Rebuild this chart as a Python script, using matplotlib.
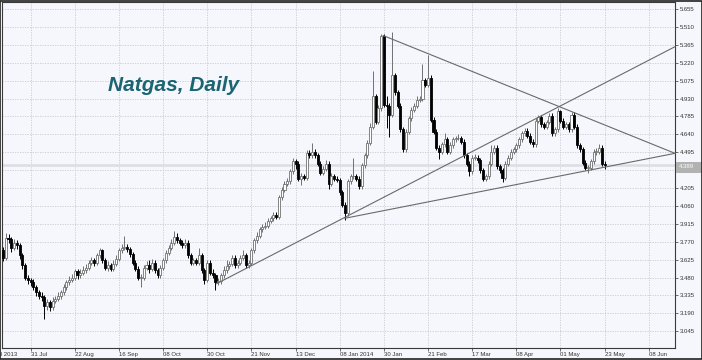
import matplotlib
matplotlib.use("Agg")
import matplotlib.pyplot as plt
import matplotlib.transforms as mtransforms
from matplotlib.patches import Rectangle

# Natgas daily candles (bar 0 = first visible bar)
opens = [
    3.70, 3.64, 3.80, 3.79, 3.72, 3.76, 3.74, 3.66, 3.58, 3.48,
    3.46, 3.44, 3.40, 3.36, 3.33, 3.32, 3.25, 3.28, 3.24, 3.29,
    3.31, 3.33, 3.36, 3.40, 3.44, 3.46, 3.48, 3.53, 3.50, 3.52,
    3.54, 3.56, 3.60, 3.62, 3.60, 3.66, 3.70, 3.62, 3.56, 3.58,
    3.55, 3.59, 3.63, 3.70, 3.72, 3.73, 3.71, 3.67, 3.60, 3.55,
    3.48, 3.48, 3.56, 3.58, 3.55, 3.60, 3.54, 3.50, 3.56, 3.62,
    3.68, 3.72, 3.76, 3.81, 3.78, 3.76, 3.74, 3.76, 3.66, 3.60,
    3.62, 3.60, 3.66, 3.54, 3.46, 3.60, 3.52, 3.50, 3.44, 3.45,
    3.50, 3.54, 3.57, 3.59, 3.64, 3.58, 3.60, 3.64, 3.66, 3.58,
    3.60, 3.70, 3.78, 3.82, 3.87, 3.89, 3.90, 3.94, 3.96, 3.99,
    3.97, 4.13, 4.19, 4.24, 4.26, 4.34, 4.42, 4.40, 4.28, 4.30,
    4.29, 4.49, 4.47, 4.50, 4.47, 4.40, 4.33, 4.36, 4.40, 4.24,
    4.30, 4.28, 4.27, 4.17, 4.07, 4.00, 4.26, 4.30, 4.30, 4.28,
    4.22, 4.39, 4.47, 4.57, 4.70, 4.95, 4.74, 4.85, 5.44, 4.88,
    4.87, 4.80, 5.12, 4.98, 4.87, 4.68, 4.52, 4.66, 4.77, 4.84,
    4.87, 4.92, 4.93, 5.08, 5.04, 5.10, 4.76, 4.66, 4.53, 4.50,
    4.56, 4.60, 4.50, 4.55, 4.60, 4.61, 4.61, 4.58, 4.47, 4.40,
    4.34, 4.45, 4.45, 4.43, 4.35, 4.28, 4.30, 4.40, 4.50, 4.53,
    4.38, 4.35, 4.29, 4.40, 4.45, 4.50, 4.52, 4.55, 4.60, 4.65,
    4.67, 4.63, 4.58, 4.56, 4.75, 4.78, 4.72, 4.70, 4.74, 4.79,
    4.65, 4.68, 4.83, 4.75, 4.70, 4.72, 4.68, 4.80, 4.70, 4.55,
    4.52, 4.41, 4.37, 4.37, 4.42, 4.50, 4.50, 4.53, 4.40,
]
highs = [
    3.73, 3.84, 3.83, 3.81, 3.79, 3.78, 3.76, 3.68, 3.60, 3.50,
    3.48, 3.47, 3.42, 3.38, 3.36, 3.34, 3.31, 3.30, 3.32, 3.33,
    3.36, 3.38, 3.43, 3.46, 3.49, 3.51, 3.55, 3.55, 3.55, 3.57,
    3.59, 3.62, 3.65, 3.64, 3.68, 3.72, 3.71, 3.64, 3.61, 3.60,
    3.62, 3.66, 3.72, 3.75, 3.82, 3.75, 3.73, 3.69, 3.62, 3.57,
    3.51, 3.58, 3.61, 3.62, 3.63, 3.62, 3.56, 3.58, 3.64, 3.70,
    3.74, 3.79, 3.86, 3.84, 3.80, 3.78, 3.79, 3.78, 3.68, 3.64,
    3.64, 3.72, 3.68, 3.56, 3.62, 3.62, 3.55, 3.52, 3.48, 3.52,
    3.57, 3.62, 3.61, 3.66, 3.66, 3.62, 3.66, 3.70, 3.68, 3.62,
    3.72, 3.80, 3.85, 3.89, 3.91, 3.93, 3.96, 3.98, 4.01, 4.01,
    4.15, 4.21, 4.26, 4.29, 4.36, 4.45, 4.44, 4.42, 4.33, 4.32,
    4.51, 4.51, 4.57, 4.52, 4.49, 4.42, 4.38, 4.43, 4.42, 4.33,
    4.32, 4.30, 4.29, 4.19, 4.09, 4.28, 4.32, 4.45, 4.32, 4.30,
    4.41, 4.49, 4.59, 4.73, 5.15, 4.97, 4.88, 5.45, 5.45, 4.95,
    4.89, 5.47, 5.14, 5.00, 4.89, 4.70, 4.68, 4.79, 4.86, 4.89,
    4.95, 4.95, 5.21, 5.10, 5.28, 5.12, 4.78, 4.68, 4.55, 4.58,
    4.65, 4.62, 4.58, 4.62, 4.63, 4.64, 4.63, 4.60, 4.49, 4.42,
    4.47, 4.48, 4.47, 4.45, 4.37, 4.32, 4.42, 4.55, 4.55, 4.55,
    4.40, 4.37, 4.42, 4.47, 4.52, 4.54, 4.57, 4.62, 4.67, 4.69,
    4.69, 4.65, 4.60, 4.77, 4.80, 4.80, 4.74, 4.76, 4.81, 4.81,
    4.70, 4.85, 4.84, 4.77, 4.74, 4.74, 4.82, 4.82, 4.72, 4.57,
    4.54, 4.43, 4.39, 4.44, 4.52, 4.53, 4.56, 4.55, 4.42,
]
lows = [
    3.61, 3.62, 3.76, 3.69, 3.70, 3.71, 3.63, 3.55, 3.46, 3.43,
    3.41, 3.38, 3.33, 3.31, 3.29, 3.14, 3.22, 3.21, 3.22, 3.27,
    3.29, 3.31, 3.34, 3.38, 3.42, 3.44, 3.46, 3.47, 3.48, 3.50,
    3.52, 3.54, 3.58, 3.57, 3.58, 3.64, 3.60, 3.54, 3.53, 3.53,
    3.53, 3.57, 3.61, 3.68, 3.70, 3.69, 3.65, 3.58, 3.53, 3.46,
    3.40, 3.46, 3.54, 3.52, 3.53, 3.52, 3.48, 3.48, 3.54, 3.60,
    3.66, 3.70, 3.74, 3.76, 3.74, 3.72, 3.72, 3.64, 3.58, 3.58,
    3.58, 3.58, 3.52, 3.43, 3.44, 3.50, 3.48, 3.38, 3.42, 3.43,
    3.48, 3.52, 3.55, 3.57, 3.56, 3.56, 3.58, 3.62, 3.56, 3.56,
    3.58, 3.68, 3.76, 3.80, 3.85, 3.87, 3.88, 3.92, 3.94, 3.95,
    3.95, 4.11, 4.17, 4.22, 4.24, 4.32, 4.36, 4.26, 4.23, 4.27,
    4.27, 4.45, 4.45, 4.45, 4.38, 4.31, 4.31, 4.34, 4.20, 4.22,
    4.26, 4.25, 4.15, 4.05, 3.945, 3.98, 4.24, 4.28, 4.26, 4.20,
    4.20, 4.37, 4.45, 4.55, 4.68, 4.72, 4.72, 4.83, 4.86, 4.69,
    4.62, 4.78, 4.96, 4.85, 4.66, 4.50, 4.50, 4.64, 4.75, 4.82,
    4.85, 4.90, 4.91, 5.02, 5.02, 4.74, 4.64, 4.51, 4.44, 4.48,
    4.54, 4.48, 4.48, 4.53, 4.58, 4.59, 4.56, 4.45, 4.38, 4.30,
    4.32, 4.43, 4.41, 4.33, 4.26, 4.26, 4.28, 4.38, 4.48, 4.36,
    4.33, 4.25, 4.27, 4.38, 4.43, 4.48, 4.50, 4.53, 4.58, 4.63,
    4.61, 4.56, 4.54, 4.54, 4.73, 4.70, 4.68, 4.68, 4.72, 4.63,
    4.63, 4.66, 4.73, 4.68, 4.68, 4.66, 4.66, 4.68, 4.53, 4.50,
    4.39, 4.35, 4.33, 4.35, 4.40, 4.47, 4.48, 4.38, 4.36,
]
closes = [
    3.64, 3.80, 3.79, 3.72, 3.76, 3.74, 3.66, 3.58, 3.48, 3.46,
    3.44, 3.40, 3.36, 3.33, 3.32, 3.25, 3.28, 3.24, 3.29, 3.31,
    3.33, 3.36, 3.40, 3.44, 3.46, 3.48, 3.53, 3.50, 3.52, 3.54,
    3.56, 3.60, 3.62, 3.60, 3.66, 3.70, 3.62, 3.56, 3.58, 3.55,
    3.59, 3.63, 3.70, 3.72, 3.73, 3.71, 3.67, 3.60, 3.55, 3.48,
    3.48, 3.56, 3.58, 3.55, 3.60, 3.54, 3.50, 3.56, 3.62, 3.68,
    3.72, 3.76, 3.81, 3.78, 3.76, 3.74, 3.76, 3.66, 3.60, 3.62,
    3.60, 3.66, 3.54, 3.46, 3.60, 3.52, 3.50, 3.44, 3.45, 3.50,
    3.54, 3.57, 3.59, 3.64, 3.58, 3.60, 3.64, 3.66, 3.58, 3.60,
    3.70, 3.78, 3.82, 3.87, 3.89, 3.90, 3.94, 3.96, 3.99, 3.97,
    4.13, 4.19, 4.24, 4.26, 4.34, 4.42, 4.40, 4.28, 4.30, 4.29,
    4.49, 4.47, 4.50, 4.47, 4.40, 4.33, 4.36, 4.40, 4.24, 4.30,
    4.28, 4.27, 4.17, 4.07, 4.00, 4.26, 4.30, 4.30, 4.28, 4.22,
    4.39, 4.47, 4.57, 4.70, 4.95, 4.74, 4.85, 5.44, 4.88, 4.87,
    4.80, 5.12, 4.98, 4.87, 4.68, 4.52, 4.66, 4.77, 4.84, 4.87,
    4.92, 4.93, 5.08, 5.04, 5.10, 4.76, 4.66, 4.53, 4.50, 4.56,
    4.60, 4.50, 4.55, 4.60, 4.61, 4.61, 4.58, 4.47, 4.40, 4.34,
    4.45, 4.45, 4.43, 4.35, 4.28, 4.30, 4.40, 4.50, 4.53, 4.38,
    4.35, 4.29, 4.40, 4.45, 4.50, 4.52, 4.55, 4.60, 4.65, 4.67,
    4.63, 4.58, 4.56, 4.75, 4.78, 4.72, 4.70, 4.74, 4.79, 4.65,
    4.68, 4.83, 4.75, 4.70, 4.72, 4.68, 4.80, 4.70, 4.55, 4.52,
    4.41, 4.37, 4.37, 4.42, 4.50, 4.50, 4.53, 4.40, 4.39,
]

last_price = 4.389
price_levels = [5.655, 5.510, 5.365, 5.220, 5.075, 4.930, 4.785, 4.640, 4.495, 4.350,
                4.205, 4.060, 3.915, 3.770, 3.625, 3.480, 3.335, 3.190, 3.045]
date_pos = [-6, 10, 26, 42, 58, 74, 90, 106, 122, 138, 154, 170, 186, 202, 218, 234]
date_labels = ["09 Jul 2013", "31 Jul", "22 Aug", "16 Sep", "08 Oct", "30 Oct", "21 Nov",
               "13 Dec", "08 Jan 2014", "30 Jan", "21 Feb", "17 Mar", "08 Apr", "01 May",
               "23 May", "08 Jun"]

# trend lines (bar index, price)
trend_lines = [
    ((77.4, 3.43), (243.5, 5.35)),
    ((123.9, 3.96), (243.5, 4.486)),
    ((137.8, 5.44), (243.5, 4.486)),
]

bg = "#f6f7fc"
fig = plt.figure(figsize=(7.02, 3.60), dpi=100, facecolor=bg)
ax = fig.add_axes([2 / 702, 12 / 360, 673 / 702, 346 / 360])
ax.set_facecolor(bg)
ax.set_xlim(-0.36, 243.5)
ax.set_ylim(2.909, 5.712)

# grid
for lv in price_levels:
    ax.axhline(lv, color="#c9c9d2", lw=0.6, ls=(0, (1.5, 1.5)), zorder=0)
for p in date_pos:
    ax.axvline(p, color="#c9c9d2", lw=0.6, ls=(0, (1.5, 1.5)), zorder=0)

# bid line
ax.axhline(last_price, color="#dcdce4", lw=1.8, zorder=1)

# candles
for i in range(len(closes)):
    o, h, l, c = opens[i], highs[i], lows[i], closes[i]
    if c >= o:
        face, edge = "white", "#707070"
    else:
        face, edge = "black", "black"
    ax.vlines(i, l, h, color=edge, lw=0.7, zorder=2)
    ax.bar(i, max(abs(c - o), 0.004), bottom=min(o, c), width=0.74,
           color=face, edgecolor=edge, linewidth=0.6, zorder=3)

for (x0, y0), (x1, y1) in trend_lines:
    ax.plot([x0, x1], [y0, y1], color="#6a6a6a", lw=0.8, zorder=4, clip_on=False)

# axes look
for s in ax.spines.values():
    s.set_color("#3a3a3a")
    s.set_linewidth(0.8)

ax.yaxis.tick_right()
ax.set_yticks(price_levels)
ax.set_yticklabels(["%.3f" % v for v in price_levels])
ax.tick_params(axis="y", labelsize=4.3, length=2.5, pad=1, colors="#333333",
               width=0.5)
for t in ax.get_yticklabels():
    t.set_family("Liberation Sans")

ax.set_xticks([p for p in date_pos if p > 0])
ax.set_xticklabels([])
ax.tick_params(axis="x", length=2, width=0.5, colors="#333333")
trans = mtransforms.blended_transform_factory(ax.transData, ax.transAxes)
for p, lab in zip(date_pos, date_labels):
    ax.text(p, -0.012, lab, transform=trans, ha="left", va="top", fontsize=4.3,
            family="Liberation Sans", color="#333333", clip_on=False)

# last price box (covers the 4.350 label, as in the terminal)
trans_y = mtransforms.blended_transform_factory(ax.transAxes, ax.transData)
ax.add_patch(Rectangle((1.002, last_price - 0.06), 0.038, 0.09, transform=trans_y,
                       facecolor="#b2b2b2", edgecolor="none", clip_on=False, zorder=5))
ax.text(1.006, last_price - 0.012, "%.3f" % last_price, transform=trans_y, ha="left",
        va="center", fontsize=4.3, family="Liberation Sans", color="white",
        clip_on=False, zorder=6)

fig.text(108 / 702, 1 - 91 / 360, "Natgas, Daily", fontsize=15, fontweight="bold",
         fontstyle="italic", family="Liberation Sans", color="#1b6472", va="baseline")

# outer frame
fig.patches.append(Rectangle((0.0007, 0.0014), 0.9986, 0.9972, transform=fig.transFigure,
                             fill=False, edgecolor="#222222", lw=1.2))

fig.savefig("out.png", dpi=100, facecolor=bg)
